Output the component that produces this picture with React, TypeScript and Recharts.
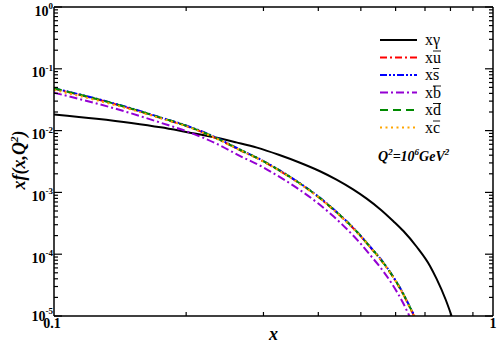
import React from 'react';
import { Customized, Legend, Line, LineChart, XAxis, YAxis } from 'recharts';

// photon and sea-quark distributions at Q^2 = 10^6 GeV^2
const gammaX = [0.1, 0.125, 0.15, 0.175, 0.2, 0.235, 0.26, 0.29, 0.325, 0.3634, 0.4035, 0.44, 0.48, 0.5155, 0.555, 0.593, 0.625, 0.67, 0.7185, 0.744, 0.78, 0.805];
const gammaY = [0.0183, 0.0156, 0.0133, 0.0113, 0.0095, 0.00764, 0.00645, 0.0053, 0.00406, 0.00302, 0.0022, 0.00161, 0.00112, 0.000794, 0.000526, 0.000342, 0.000237, 0.000132, 0.0000646, 0.0000398, 0.0000185, 0.00001];

const quarkX = [0.1, 0.125, 0.15, 0.175, 0.2, 0.235, 0.265, 0.295, 0.33, 0.36, 0.4, 0.433, 0.456, 0.4935, 0.525, 0.553, 0.588, 0.625, 0.645, 0.662];
const uBarY = [0.0476, 0.0322, 0.0225, 0.016, 0.0119, 0.0074, 0.00485, 0.00337, 0.00214, 0.00145, 0.00084, 0.000527, 0.000377, 0.000215, 0.00013, 0.000084, 0.000046, 0.0000222, 0.0000142, 0.0000098];
const sBarY = [0.0484, 0.0328, 0.0229, 0.0163, 0.0121, 0.0076, 0.00495, 0.00343, 0.00218, 0.00147, 0.00086, 0.000537, 0.000385, 0.000219, 0.000132, 0.000086, 0.000047, 0.0000228, 0.0000146, 0.0000102];
const bBarY = [0.041, 0.0275, 0.019, 0.0134, 0.0098, 0.0061, 0.0039, 0.0027, 0.0017, 0.00114, 0.00066, 0.00041, 0.00029, 0.000163, 0.000097, 0.000062, 0.0000335, 0.0000159, 0.00001, 0.0000068];
const dBarY = [0.048, 0.0325, 0.0227, 0.0162, 0.012, 0.0075, 0.0049, 0.0034, 0.00216, 0.00146, 0.00085, 0.000532, 0.000381, 0.000217, 0.000131, 0.000085, 0.0000465, 0.0000225, 0.0000144, 0.00001];
const cBarY = [0.0455, 0.031, 0.0219, 0.0158, 0.0118, 0.0074, 0.00484, 0.00336, 0.00213, 0.00144, 0.00084, 0.000526, 0.000376, 0.000214, 0.00013, 0.000084, 0.000046, 0.0000222, 0.0000142, 0.0000098];

const xTicks = [0.1, 0.2, 0.3, 0.4, 0.5, 0.6, 0.7, 0.8, 0.9, 1];
const yTicks: number[] = [];
for (let e = -5; e < 0; e++) for (let m = 1; m < 10; m++) yTicks.push(m * Math.pow(10, e));
yTicks.push(1);

const zip = (xs: number[], ys: number[]) => xs.map((x, i) => ({ x, y: ys[i] }));

const series = [
  { name: 'g', bar: '', sym: 'γ', barW: 0, data: zip(gammaX, gammaY), color: '#000000', dash: undefined },
  { name: 'u', bar: 'u', sym: '', barW: 8, data: zip(quarkX, uBarY), color: '#ff0000', dash: '7 3 2 3' },
  { name: 's', bar: 's', sym: '', barW: 6.2, data: zip(quarkX, sBarY), color: '#0000ff', dash: '7 2 2 2 2 2' },
  { name: 'b', bar: 'b', sym: '', barW: 8, data: zip(quarkX, bBarY), color: '#9400d3', dash: '8 3 2 3' },
  { name: 'd', bar: 'd', sym: '', barW: 8, data: zip(quarkX, dBarY), color: '#008a00', dash: '8 5' },
  { name: 'c', bar: 'c', sym: '', barW: 7.1, data: zip(quarkX, cBarY), color: '#ffa500', dash: '2 3.5' },
];

const SERIF = '"Liberation Serif", "Times New Roman", serif';

const isPow10 = (v: number) => Math.abs(Math.log10(v) - Math.round(Math.log10(v))) < 1e-9;

function LeftTick({ x, y, payload }: any) {
  const v = payload.value;
  const major = isPow10(v);
  const exp = Math.round(Math.log10(v));
  const base = exp === -5 ? y + 4.5 : y + 8.5;
  return (
    <g>
      <line x1={x} x2={x + (major ? 8 : 4)} y1={y} y2={y} stroke="#000" strokeWidth={1.2} />
      {major && (
        <text x={x - 1} y={base} textAnchor="end" fontFamily={SERIF} fontWeight="bold" fontSize={14} fill="#000">
          <tspan>10</tspan>
          <tspan dy={-6.5} fontSize={9}>{exp}</tspan>
        </text>
      )}
    </g>
  );
}

function RightTick({ x, y, payload }: any) {
  const major = isPow10(payload.value);
  return <line x1={x} x2={x - (major ? 8 : 4)} y1={y} y2={y} stroke="#000" strokeWidth={1.2} />;
}

function BottomTick({ x, y, payload }: any) {
  const v = payload.value;
  const edge = v === 0.1 || v === 1;
  return (
    <g>
      {!edge && <line x1={x} x2={x} y1={y} y2={y - 4} stroke="#000" strokeWidth={1.2} />}
      {edge && (
        <text x={v === 1 ? x : x - 2} y={y + 12} textAnchor="middle" fontFamily={SERIF} fontWeight="bold" fontSize={14} fill="#000">
          {v === 1 ? '1' : '0.1'}
        </text>
      )}
    </g>
  );
}

function TopTick({ x, y, payload }: any) {
  const v = payload.value;
  if (v === 0.1 || v === 1) return null;
  return <line x1={x} x2={x} y1={y} y2={y + 4} stroke="#000" strokeWidth={1.2} />;
}

function Annotations() {
  return (
    <g fontFamily={SERIF} fontWeight="bold" fontStyle="italic" fill="#000">
      <text x={378} y={161} fontSize={14}>
        <tspan>Q</tspan>
        <tspan dy={-6} fontSize={9}>2</tspan>
        <tspan dy={6}>=10</tspan>
        <tspan dy={-6} fontSize={9}>6</tspan>
        <tspan dy={6}>GeV</tspan>
        <tspan dy={-6} fontSize={9}>2</tspan>
      </text>
      <text x={273.5} y={340} fontSize={18} textAnchor="middle">x</text>
      <text transform="translate(25,160) rotate(-90)" fontSize={18} textAnchor="middle">
        <tspan>xf(x,Q</tspan>
        <tspan dy={-7} fontSize={11}>2</tspan>
        <tspan dy={7}>)</tspan>
      </text>
    </g>
  );
}

function LegendBox() {
  return (
    <svg width={115} height={110} style={{ display: 'block' }}>
      {series.map((s, i) => {
        const cy = 10 + i * 17.5;
        return (
          <g key={s.name}>
            <line x1={2} x2={39} y1={cy} y2={cy} stroke={s.color} strokeWidth={2} strokeDasharray={s.dash} />
            <text x={47} y={cy + 5} fontFamily={SERIF} fontSize={16} fill="#000">
              {'x' + (s.bar || s.sym)}
            </text>
            {s.bar && <line x1={55} x2={55 + s.barW} y1={cy - 6.5} y2={cy - 6.5} stroke="#000" strokeWidth={0.9} />}
          </g>
        );
      })}
    </svg>
  );
}

export default function App() {
  const axisLine = { stroke: '#000', strokeWidth: 1.5 };
  return (
    <div style={{ position: 'absolute', left: 0, top: 0, background: '#fff' }}>
      <LineChart width={498} height={344} margin={{ top: 6, right: 4, bottom: 27, left: 53 }}>
        <XAxis
          xAxisId="b"
          type="number"
          dataKey="x"
          scale="log"
          domain={[0.1, 1]}
          ticks={xTicks}
          interval={0}
          allowDataOverflow
          height={1}
          tickSize={0}
          tickMargin={0}
          tickLine={false}
          tick={<BottomTick />}
          axisLine={axisLine}
        />
        <XAxis
          xAxisId="t"
          orientation="top"
          type="number"
          dataKey="x"
          scale="log"
          domain={[0.1, 1]}
          ticks={xTicks}
          interval={0}
          allowDataOverflow
          height={1}
          tickSize={0}
          tickMargin={0}
          tickLine={false}
          tick={<TopTick />}
          axisLine={axisLine}
        />
        <YAxis
          yAxisId="l"
          type="number"
          scale="log"
          domain={[0.00001, 1]}
          ticks={yTicks}
          interval={0}
          allowDataOverflow
          width={1}
          tickSize={0}
          tickMargin={0}
          tickLine={false}
          tick={<LeftTick />}
          axisLine={axisLine}
        />
        <YAxis
          yAxisId="r"
          orientation="right"
          type="number"
          scale="log"
          domain={[0.00001, 1]}
          ticks={yTicks}
          interval={0}
          allowDataOverflow
          width={1}
          tickSize={0}
          tickMargin={0}
          tickLine={false}
          tick={<RightTick />}
          axisLine={axisLine}
        />
        {series.map((s) => (
          <Line
            key={s.name}
            name={s.name}
            xAxisId="b"
            yAxisId="l"
            data={s.data}
            dataKey="y"
            type="monotone"
            stroke={s.color}
            strokeWidth={2}
            strokeDasharray={s.dash}
            dot={false}
            activeDot={false}
            isAnimationActive={false}
          />
        ))}
        <Legend
          layout="horizontal"
          verticalAlign="middle"
          align="center"
          content={<LegendBox />}
          wrapperStyle={{ left: 378, top: 30, width: 115 }}
        />
        <Customized component={Annotations} />
      </LineChart>
    </div>
  );
}
